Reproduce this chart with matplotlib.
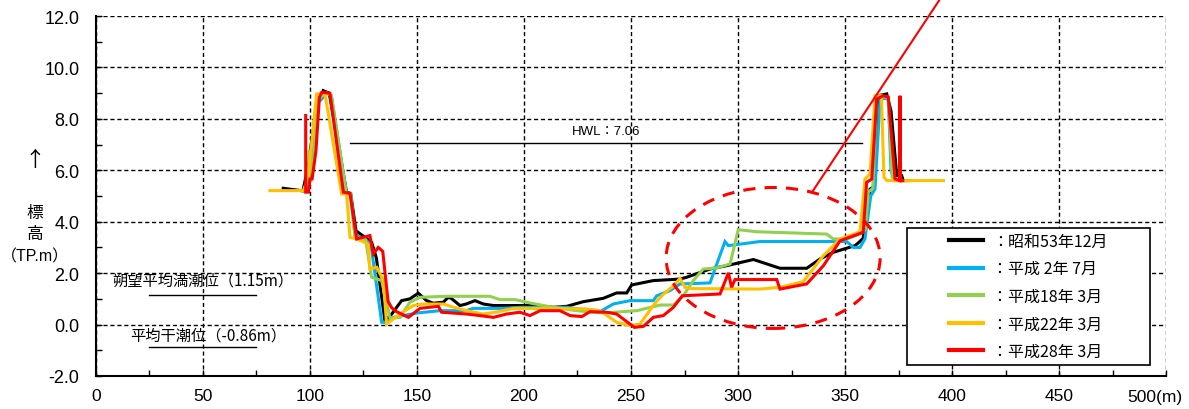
import matplotlib
matplotlib.use("Agg")
import matplotlib.pyplot as plt
from matplotlib.patches import Ellipse, Rectangle
from matplotlib.ticker import MultipleLocator

plt.rcParams['font.family'] = ['Liberation Sans', 'Noto Sans CJK JP', 'DejaVu Sans']
JP = ['Noto Sans CJK JP']

# 横断測量結果（距離 m, 標高 TP.m）
s53_x = [87.5, 96.7, 99.5, 103, 106.2, 109, 117.1, 119, 121.5, 125.7, 128.8, 131, 135, 138.2, 142.8,
         146.7, 150.6, 154.5, 157.6, 162.3, 164.6, 166, 170.1, 173, 177.1, 181, 185.7, 202.8, 213.7,
         220, 227.7, 237, 243.3, 248, 250.3, 260.4, 272.9, 276, 286.9, 294.7, 307.2, 319.6, 332.1,
         338.3, 344.5, 354.7, 356.5, 358.5, 361.7, 363.2, 365.6, 369.5, 371.5, 374.2, 376.5, 377.2, 380]
s53_y = [5.3, 5.2, 6.3, 8.5, 9.1, 9.0, 5.15, 5.1, 3.65, 3.39, 3.2, 2.6, 0.15, 0.41, 0.93,
         1.0, 1.22, 0.93, 0.83, 0.87, 1.06, 1.02, 0.74, 0.8, 0.93, 0.8, 0.74, 0.74, 0.67,
         0.71, 0.89, 1.02, 1.23, 1.23, 1.54, 1.71, 1.77, 1.84, 2.16, 2.29, 2.53, 2.19, 2.19,
         2.55, 2.81, 3.07, 3.2, 3.36, 5.27, 5.35, 8.9, 8.97, 8.3, 5.79, 5.79, 5.6, 5.6]

h02_x = [97, 99.5, 103.5, 108, 110, 117, 119, 121, 126, 128.5, 133.5, 135.8, 139, 150, 160.7, 173,
         176.3, 190, 198.1, 213.7, 220, 235.5, 241.7, 249.5, 260.4, 262, 268.2, 272.9, 286.9, 293.9,
         295.5, 310.3, 350.8, 353.9, 357, 359.3, 362, 364, 366.4, 370.2, 371.5, 373, 377]
h02_y = [5.2, 5.5, 8.6, 9.0, 8.9, 5.1, 5.1, 3.5, 3.3, 3.1, 0.09, 0.09, 0.28, 0.45, 0.54, 0.54,
         0.63, 0.63, 0.67, 0.67, 0.67, 0.5, 0.8, 0.93, 0.93, 1.12, 1.32, 1.58, 1.62, 3.23,
         3.07, 3.23, 3.23, 3.0, 3.0, 3.33, 5.0, 5.27, 8.77, 8.8, 6.0, 5.6, 5.6]

h18_x = [97, 99.2, 99.5, 101, 104, 108, 110, 117, 119, 121, 126, 128.8, 133.5, 137.4, 142, 146.7,
         151.4, 163.9, 184.1, 188.8, 196, 202.8, 213.7, 224.6, 237, 252.7, 263.6, 269.8, 274.4,
         279.1, 283.8, 290, 296.3, 300.1, 308.7, 341.4, 344.5, 350.8, 357, 359.5, 360.9, 363,
         364.8, 370.2, 372, 373.5, 378]
h18_y = [5.2, 5.3, 6.8, 5.8, 8.8, 9.0, 8.9, 5.1, 5.1, 3.4, 3.3, 1.84, 1.71, 0.25, 0.28, 0.87,
         1.06, 1.1, 1.1, 0.97, 0.97, 0.84, 0.67, 0.54, 0.45, 0.54, 0.76, 0.76, 1.12,
         1.71, 2.16, 2.2, 2.36, 3.69, 3.61, 3.52, 3.33, 3.33, 3.52, 3.7, 5.15, 5.3,
         8.85, 8.85, 5.73, 5.6, 5.6]

h22_x = [81.3, 96.9, 99.2, 103.1, 105.5, 107, 114.8, 117.1, 118.7, 121.8, 127.2, 128, 131.2, 134.3,
         135.8, 142, 148.3, 153, 162.3, 166, 173.2, 181, 188, 195, 202.8, 229.3, 235.5, 243.3,
         249.5, 254.2, 260.4, 263.6, 268.2, 270, 272.9, 275.2, 278, 310.3, 319.6, 330.5, 339.9,
         347.7, 357, 359.3, 361.7, 364, 367, 368.2, 369.6, 396]
h22_y = [5.21, 5.21, 5.73, 8.97, 9.0, 8.97, 5.08, 5.08, 3.39, 3.33, 3.13, 2.16, 2.23, 1.71,
         0.02, 0.41, 0.74, 0.8, 0.8, 0.7, 0.54, 0.41, 0.5, 0.63, 0.63, 0.61, 0.54, 0.09,
         -0.04, 0.02, 0.74, 1.06, 1.4, 1.5, 1.8, 1.45, 1.4, 1.38, 1.45, 1.67, 2.68,
         3.33, 3.61, 5.66, 5.86, 8.9, 8.9, 5.73, 5.6, 5.6]

h28_x = [98, 98, 99.3, 100, 101, 102.8, 104.4, 105.5, 109.3, 115.6, 118.7, 121.8, 128, 129.6, 131.9,
         134, 136.5, 138.2, 140.5, 146, 151.4, 160, 161.5, 173.2, 179.4, 185.7, 191.9, 198.1, 202.8,
         207.5, 216.8, 221.5, 227, 230.8, 238.6, 243.3, 251.6, 255.8, 260.4, 265.1, 269.8, 274,
         291.6, 295.5, 297, 298.6, 318.1, 319.6, 332.1, 339.9, 347.7, 358.5, 360.1, 362.5, 364.8,
         367.9, 370.2, 373.4, 375.7, 375.7, 375.7, 377]
h28_y = [8.13, 5.15, 5.15, 5.66, 5.66, 6.76, 8.84, 9.03, 9.0, 5.15, 5.1, 3.33, 3.46, 2.75, 3.0,
         2.85, 0.9, 0.65, 0.5, 0.28, 0.63, 0.71, 0.48, 0.41, 0.35, 0.28, 0.41, 0.48, 0.35,
         0.54, 0.54, 0.35, 0.31, 0.5, 0.48, 0.41, -0.11, -0.07, 0.28, 0.35, 0.67, 1.12,
         1.19, 2.01, 1.45, 1.75, 1.75, 1.38, 1.58, 2.29, 3.26, 3.59, 5.53, 5.66, 8.77,
         8.9, 8.85, 5.66, 5.6, 8.9, 5.6, 5.6]

labels = ['：昭和53年12月', '：平成 2年 7月', '：平成18年 3月', '：平成22年 3月', '：平成28年 3月']
colors = ['black', '#00b0f0', '#92d050', '#ffc000', '#ff0000']

hwl = 7.06
hwl_range = [118.7, 358]
mhw = 1.15
mlw = -0.86
tide_range = [25, 75]

fig = plt.figure(figsize=(11.89, 4.10), dpi=100)
ax = fig.add_axes([0.0807, 0.0805, 0.9, 0.878])

series = [(s53_x, s53_y), (h02_x, h02_y), (h18_x, h18_y), (h22_x, h22_y), (h28_x, h28_y)]
for i, ((xs, ys), c, lab) in enumerate(zip(series, colors, labels)):
    ax.plot(xs, ys, color=c, lw=2.2, label=lab, zorder=3 + i, solid_joinstyle='miter')

# HWL と潮位
ax.plot(hwl_range, [hwl, hwl], color='black', lw=1, zorder=2)
ax.text(sum(hwl_range) / 2, hwl + 0.47, 'HWL：7.06', ha='center', va='center', fontsize=9.5)
ax.plot(tide_range, [mhw, mhw], color='black', lw=1)
ax.plot(tide_range, [mlw, mlw], color='black', lw=1)
ax.text(50, mhw + 0.58, '朔望平均満潮位（1.15m）', ha='center', va='center', fontsize=11,
        family=JP)
ax.text(52.5, mlw + 0.45, '平均干潮位（-0.86m）', ha='center', va='center', fontsize=11,
        family=JP)

# 変化箇所
ax.add_patch(Ellipse((316.4, 2.59), 100, 5.48, fill=False, ec='red', lw=2.2,
                     ls=(0, (4, 3)), zorder=10))
ax.plot([335, 394.4], [5.2, 12.66], color='red', lw=1.5, clip_on=False, zorder=10)

ax.set_xlim(0, 500)
ax.set_ylim(-2, 12)
ax.xaxis.set_minor_locator(MultipleLocator(25))
ax.yaxis.set_minor_locator(MultipleLocator(1))
ax.tick_params(which='both', direction='in', length=4, width=1)
ax.tick_params(axis='y', labelsize=13, pad=12)
ax.tick_params(axis='x', pad=9)
ax.set_yticks(range(-2, 13, 2))
ax.set_yticklabels(['%.1f' % v for v in range(-2, 13, 2)])
ax.set_xticks(range(0, 501, 50))
ax.set_xticklabels([str(v) for v in range(0, 451, 50)] + [''], fontsize=12.5)
ax.annotate('500(m)', xy=(500, -2), xytext=(-8, -15), textcoords='offset points',
            ha='center', va='center', fontsize=12.5, annotation_clip=False)

ax.grid(True, which='major', color='black', ls=(0, (3, 2)), lw=1)
for s in ['top', 'right']:
    ax.spines[s].set_visible(False)
for s in ['left', 'bottom']:
    ax.spines[s].set_linewidth(1.5)

# 凡例
ax.add_patch(Rectangle((0.758, 0.031), 0.227, 0.381, transform=ax.transAxes, fc='white',
                       ec='black', lw=1.2, zorder=20))
leg = ax.legend(loc='center', bbox_to_anchor=(0.758 + 0.227 / 2, 0.031 + 0.381 / 2),
                frameon=False, handlelength=2.1, handletextpad=0.6,
                labelspacing=0.66, prop={'family': JP, 'size': 11.5})
leg.set_zorder(21)
for ln in leg.get_lines():
    ln.set_linewidth(3)

# 縦軸名
fig.text(35 / 1189, 1 - 160 / 410, '↑', ha='center', va='center', fontsize=15, family=JP)
fig.text(35 / 1189, 1 - 214 / 410, '標', ha='center', va='center', fontsize=12, family=JP)
fig.text(35 / 1189, 1 - 235 / 410, '高', ha='center', va='center', fontsize=12, family=JP)
fig.text(35 / 1189, 1 - 257 / 410, '（TP.m）', ha='center', va='center', fontsize=11.5)

fig.savefig('out.png', dpi=100)
